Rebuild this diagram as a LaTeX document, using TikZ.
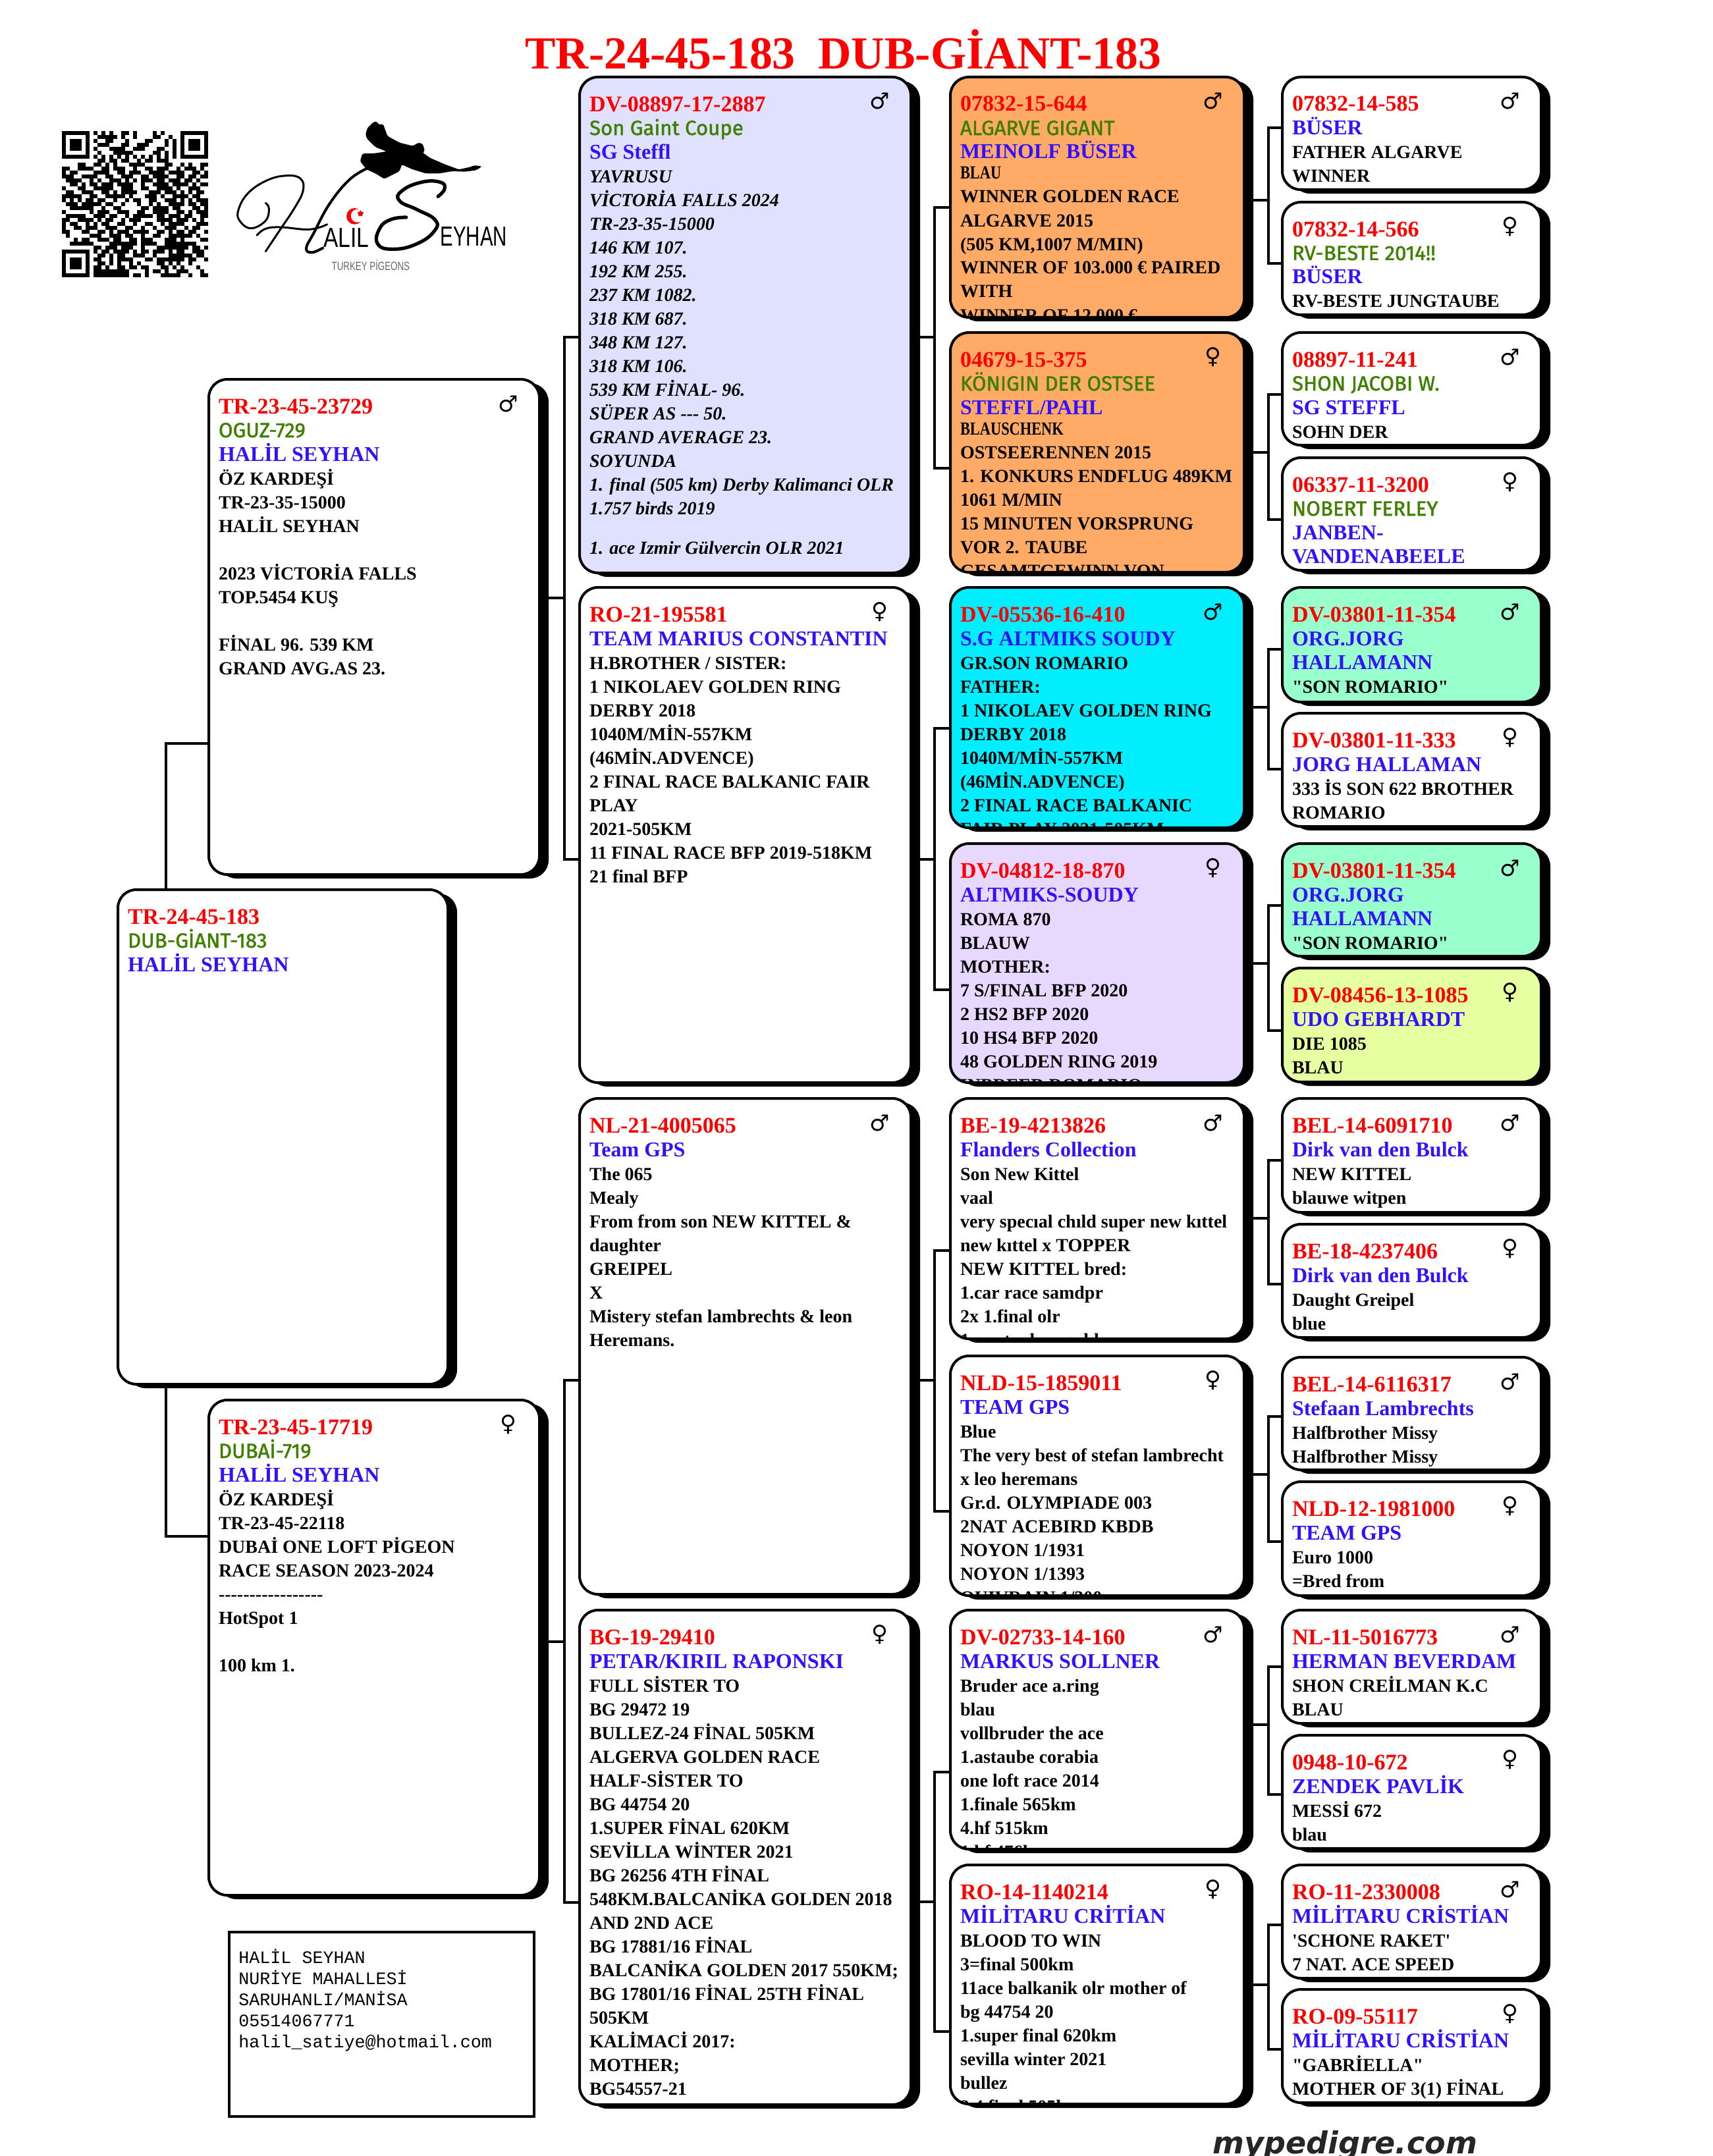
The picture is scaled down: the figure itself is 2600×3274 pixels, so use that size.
\documentclass[tikz,border=0pt]{standalone}
\usepackage{fontspec}
\usetikzlibrary{positioning,shadows,backgrounds,calc,shapes.geometric}
\newfontfamily\pedserif{Liberation Serif}
\newfontfamily\pedsans[FakeBold=1.6]{Fira Sans}
\newfontfamily\pedmono{Liberation Mono}
\newfontfamily\pedlogo{Liberation Sans}
\newfontfamily\pedsym{DejaVu Sans}
\definecolor{pedred}{HTML}{FF0000}
\definecolor{pedgreen}{HTML}{3F8000}
\definecolor{pedblue}{HTML}{3311FF}
\definecolor{cellorange}{HTML}{FFAA66}
\definecolor{celllav}{HTML}{E0E0FF}
\definecolor{cellcyan}{HTML}{00EEFF}
\definecolor{cellmint}{HTML}{99FFCC}
\definecolor{cellpurple}{HTML}{E6D8FF}
\definecolor{celllime}{HTML}{E6FFA0}
\lineskiplimit=-100pt
\tikzset{
  pedcell/.style={draw=black, line width=2pt, rounded corners=14pt, anchor=north west,
    inner sep=0pt, outer sep=0pt,
    general shadow={fill=black, shadow xshift=7pt, shadow yshift=-3pt}},
  pedtext/.style={inner sep=0pt, outer sep=0pt, align=left,
    font=\pedserif\bfseries\fontsize{14}{18}\selectfont},
  pedsex/.style={inner sep=0pt, font=\pedsym\fontsize{17}{17}\selectfont},
  pedline/.style={line width=2pt, line join=miter},
  logotext/.style={inner sep=0pt, anchor=base west, transform shape, font=\pedlogo},
  every picture/.append style={x=0.5pt, y=-0.5pt}
}
\newcommand{\pedid}[1]{{\upshape\color{pedred}\rule{0pt}{12pt}\fontsize{17}{18}\selectfont #1}}
\newcommand{\pedname}[1]{{\upshape\mdseries\color{pedgreen}\pedsans\fontsize{15.6}{18}\selectfont #1}}
\newcommand{\pedown}[1]{{\upshape\color{pedblue}\fontsize{16}{18}\selectfont #1}}
\newcommand{\pedsmall}[1]{\scalebox{0.8}[1]{#1}}
\newcommand{\pedbox}[8]{
  \node[pedcell, fill=#6, minimum width=#4*0.5pt, minimum height=#5*0.5pt] (#1) at (#2,#3) {};
  \begin{scope}
    \clip[rounded corners=13pt] ([shift={(1pt,-1pt)}]#1.north west) rectangle ([shift={(-1pt,1pt)}]#1.south east);
    \node[pedtext, anchor=north west] (#1text) at ([shift={(7.5pt,-14pt)}]#1.north west) {#8};
  \end{scope}
  \node[pedsex] (#1sex) at ([shift={(-23.5pt,-18.5pt)}]#1.north east) {#7};
}
\newcommand{\pedlink}[7]{
  \draw[pedline] (#1.east |- 0,#6) -- (#4,#6);
  \draw[pedline] (#2.west |- 0,#5) -- (#4,#5) -- (#4,#7) -- (#3.west |- 0,#7);
}
\newcount\qrcol
\def\qrscan#1{\ifx#1.\else\ifnum#1=1 \fill (94+6*\the\qrcol-0.1,199+6*\qrrow-0.1) rectangle (100.1+6*\the\qrcol,205.1+6*\qrrow);\fi\advance\qrcol by 1 \expandafter\qrscan\fi}
\begin{document}
\begin{tikzpicture}
  \useasboundingbox (0,0) rectangle (2600,3274);
  \node[anchor=base west, inner sep=0pt, text=pedred, font=\pedserif\bfseries\fontsize{34.85}{36}\selectfont] (title) at (797,105) {TR-24-45-183\ \ DUB-GİANT-183};

  \foreach \qrbits [count=\qrrow from 0] in {
    1111111 0 101010011010000101000 0 1111111,
    1000001 0 011111010010000110010 0 1000001,
    1011101 0 100110001000011000101 0 1011101,
    1011101 0 011100011001110000101 0 1011101,
    1011101 0 100011110011100011001 0 1011101,
    1000001 0 010001111100000110101 0 1000001,
    1111111 0 101010101010101010101 0 1111111,
    0000000 0 011011011001011011100 0 0000000,
    0000110 0 110101000111100000110 0 1010011,
    1100111 1 001101110010011011100 1 0111010,
    1011000 0 111100110111001111011 1 1001101,
    1110011 1 100110011100110111100 1 1011011,
    0111100 1 010011101010111011011 1 0110100,
    0011010 1 101110111100100111101 1 1101011,
    1000110 0 111110011100110011110 1 0011100,
    0110011 1 001101011110001110111 0 1010110,
    1111100 1 100111110100011101001 1 1101100,
    1010101 1 011001001011001100111 0 1010111,
    0111011 1 110110010001001010011 1 1011011,
    0011111 1 001001100000110111101 1 0001101,
    1000000 1 011100111001100111100 1 1010111,
    0111110 0 111011001011111011011 1 0110011,
    1100111 1 010110010111000011110 1 1101010,
    1011001 0 101100110010011001011 1 1000111,
    1001101 1 100111001100100100111 0 0101100,
    1100011 0 011010111011110011010 1 1011001,
    0100000 1 110011101100100110011 1 1110100,
    0001011 0 011101100110111000111 0 1000011,
    0011111 1 000011111110111100111 1 1111000,
    0000000 0 110111011100100011111 1 1101101,
    1111111 0 101101111010110111010 1 1001110,
    1000001 0 011010110011100100011 1 1110110,
    1011101 0 110010111100011011111 1 1011001,
    1011101 0 011010100101000011010 1 0010000,
    1011101 0 110100110110110001101 0 1000100,
    1000001 0 111111111000010110100 1 1100010,
    1111111 0 111111111011010001111 1 0010011}
  {\qrcol=0 \expandafter\qrscan\qrbits.}

  \begin{scope}[shift={(340,170)}, x=0.1667pt, y=-0.1667pt]
    \fill[rounded corners=1pt] (655,70) -- (668,60) -- (675,50) -- (695,42) -- (705,58) -- (725,55) -- (745,110) -- (800,140) -- (860,155) -- (885,140) -- (905,145) -- (915,178) -- (905,185) -- (940,210) -- (1010,240) -- (1070,262) -- (1125,250) -- (1140,243) -- (1175,248) -- (1150,265) -- (1100,272) -- (1040,270) -- (980,280) -- (920,280) -- (860,262) -- (810,240) -- (800,270) -- (760,290) -- (730,305) -- (690,280) -- (650,262) -- (620,225) -- (630,190) -- (690,188) -- (740,180) -- (690,160) -- (650,120) -- (645,100) -- cycle;
    \draw[line width=1.5pt, line cap=round] plot[smooth, tension=0.7] coordinates {(190,415) (205,440) (190,495) (125,530) (75,500) (65,450) (110,370) (200,310) (290,290) (350,305) (360,360) (320,440) (260,530) (190,635)};
    \draw[line width=1.5pt, line cap=round] plot[smooth, tension=0.7] coordinates {(150,562) (190,532) (260,525) (390,535) (470,512)};
    \draw[line width=2pt, line cap=round] plot[smooth, tension=0.7] coordinates {(650,258) (570,310) (480,420) (410,550) (375,620) (400,640) (450,620)};
    \draw[line width=2.6pt, line cap=round] plot[smooth, tension=0.8] coordinates {(975,385) (1005,350) (985,320) (900,320) (810,360) (800,405) (880,445) (960,490) (960,540) (880,600) (770,625) (700,600) (710,530) (760,490) (830,480)};
    \fill[red] (595,475) circle (37);
    \fill[white] (608,473) circle (30);
    \node[star, star points=5, fill=red, inner sep=0pt, minimum size=5pt] (logostar) at (622,463) {};
    \node[logotext, xscale=0.8, font=\pedlogo\fontsize{21}{21}\selectfont] (logoalil) at (452,615) {ALIL};
    \node[logotext, xscale=0.7, font=\pedlogo\fontsize{21}{21}\selectfont] (logoeyhan) at (985,610) {EYHAN};
    \node[logotext, xscale=0.74, text=black!60, font=\pedlogo\fontsize{9}{9}\selectfont] (logotag) at (490,720) {TURKEY PİGEONS};
  \end{scope}

  \pedbox{root}{179}{1351}{501}{751}{white}{}{\pedid{TR-24-45-183}\\\pedname{DUB-GİANT-183}\\\pedown{HALİL SEYHAN}}

  \pedbox{sire}{317}{576}{502}{752}{white}{♂}{\pedid{TR-23-45-23729}\\\pedname{OGUZ-729}\\\pedown{HALİL SEYHAN}\\ÖZ KARDEŞİ\\TR-23-35-15000\\HALİL SEYHAN\\~\\2023 VİCTORİA FALLS\\TOP.5454 KUŞ\\~\\FİNAL 96. 539 KM\\GRAND AVG.AS 23.}
  \pedbox{dam}{317}{2126}{502}{752}{white}{♀}{\pedid{TR-23-45-17719}\\\pedname{DUBAİ-719}\\\pedown{HALİL SEYHAN}\\ÖZ KARDEŞİ\\TR-23-45-22118\\DUBAİ ONE LOFT PİGEON\\RACE SEASON 2023-2024\\-{}-{}-{}-{}-{}-{}-{}-{}-{}-{}-{}-{}-{}-{}-{}-{}-\\HotSpot 1\\~\\100 km 1.}

  \begin{scope}[pedtext/.append style={font=\pedserif\bfseries\itshape\fontsize{14}{18}\selectfont}]
    \pedbox{ss}{880}{117}{503}{753}{celllav}{♂}{\pedid{DV-08897-17-2887}\\\pedname{Son Gaint Coupe}\\\pedown{SG Steffl}\\YAVRUSU\\VİCTORİA FALLS 2024\\TR-23-35-15000\\146 KM 107.\\192 KM 255.\\237 KM 1082.\\318 KM 687.\\348 KM 127.\\318 KM 106.\\539 KM FİNAL- 96.\\SÜPER AS -{}-{}- 50.\\GRAND AVERAGE 23.\\SOYUNDA\\1. final (505 km) Derby Kalimanci OLR\\1.757 birds 2019\\[12pt]1. ace Izmir Gülvercin OLR 2021}
  \end{scope}
  \pedbox{sd}{880}{892}{503}{752}{white}{♀}{\pedid{RO-21-195581}\\\pedown{TEAM MARIUS CONSTANTIN}\\H.BROTHER / SISTER:\\1 NIKOLAEV GOLDEN RING\\DERBY 2018\\1040M/MİN-557KM\\(46MİN.ADVENCE)\\2 FINAL RACE BALKANIC FAIR\\PLAY\\2021-505KM\\11 FINAL RACE BFP 2019-518KM\\21 final BFP}
  \pedbox{ds}{880}{1668}{503}{753}{white}{♂}{\pedid{NL-21-4005065}\\\pedown{Team GPS}\\The 065\\Mealy\\From from son NEW KITTEL \&\\daughter\\GREIPEL\\X\\Mistery stefan lambrechts \& leon\\Heremans.}
  \pedbox{dd}{880}{2445}{503}{751}{white}{♀}{\pedid{BG-19-29410}\\\pedown{PETAR/KIRIL RAPONSKI}\\FULL SİSTER TO\\BG 29472 19\\BULLEZ-24 FİNAL 505KM\\ALGERVA GOLDEN RACE\\HALF-SİSTER TO\\BG 44754 20\\1.SUPER FİNAL 620KM\\SEVİLLA WİNTER 2021\\BG 26256 4TH FİNAL\\548KM.BALCANİKA GOLDEN 2018\\AND 2ND ACE\\BG 17881/16 FİNAL\\BALCANİKA GOLDEN 2017 550KM;\\BG 17801/16 FİNAL 25TH FİNAL\\505KM\\KALİMACİ 2017:\\MOTHER;\\BG54557-21\\sevilla}

  \pedbox{sss}{1443}{117}{446}{365}{cellorange}{♂}{\pedid{07832-15-644}\\\pedname{ALGARVE GIGANT}\\\pedown{MEINOLF BÜSER}\\[-2.5pt]\pedsmall{BLAU}\\WINNER GOLDEN RACE\\ALGARVE 2015\\(505 KM,1007 M/MIN)\\WINNER OF 103.000 € PAIRED\\WITH\\WINNER OF 12.000 €}
  \pedbox{ssd}{1443}{505}{446}{364}{cellorange}{♀}{\pedid{04679-15-375}\\\pedname{KÖNIGIN DER OSTSEE}\\\pedown{STEFFL/PAHL}\\[-2.5pt]\pedsmall{BLAUSCHENK}\\OSTSEERENNEN 2015\\1. KONKURS ENDFLUG 489KM\\1061 M/MIN\\15 MINUTEN VORSPRUNG\\VOR 2. TAUBE\\GESAMTGEWINN VON}
  \pedbox{sds}{1443}{892}{446}{365}{cellcyan}{♂}{\pedid{DV-05536-16-410}\\\pedown{S.G ALTMIKS SOUDY}\\GR.SON ROMARIO\\FATHER:\\1 NIKOLAEV GOLDEN RING\\DERBY 2018\\1040M/MİN-557KM\\(46MİN.ADVENCE)\\2 FINAL RACE BALKANIC\\FAIR PLAY 2021-505KM}
  \pedbox{sdd}{1443}{1281}{446}{363}{cellpurple}{♀}{\pedid{DV-04812-18-870}\\\pedown{ALTMIKS-SOUDY}\\ROMA 870\\BLAUW\\MOTHER:\\7 S/FINAL BFP 2020\\2 HS2 BFP 2020\\10 HS4 BFP 2020\\48 GOLDEN RING 2019\\INBREED ROMARIO}
  \pedbox{dss}{1443}{1668}{446}{365}{white}{♂}{\pedid{BE-19-4213826}\\\pedown{Flanders Collection}\\Son New Kittel\\vaal\\very specıal chıld super new kıttel\\new kıttel x TOPPER\\NEW KITTEL bred:\\1.car race samdpr\\2x 1.final olr\\1.ace taube world}
  \pedbox{dsd}{1443}{2059}{446}{364}{white}{♀}{\pedid{NLD-15-1859011}\\\pedown{TEAM GPS}\\Blue\\The very best of stefan lambrecht\\x leo heremans\\Gr.d. OLYMPIADE 003\\2NAT ACEBIRD KBDB\\NOYON 1/1931\\NOYON 1/1393\\QUIVRAIN 1/300}
  \pedbox{dds}{1443}{2445}{446}{363}{white}{♂}{\pedid{DV-02733-14-160}\\\pedown{MARKUS SOLLNER}\\Bruder ace a.ring\\blau\\vollbruder the ace\\1.astaube corabia\\one loft race 2014\\1.finale 565km\\4.hf 515km\\1.hf 476km}
  \pedbox{ddd}{1443}{2832}{446}{363}{white}{♀}{\pedid{RO-14-1140214}\\\pedown{MİLİTARU CRİTİAN}\\BLOOD TO WIN\\3=final 500km\\11ace balkanik olr mother of\\bg 44754 20\\1.super final 620km\\sevilla winter 2021\\bullez\\2.4 final 505km}

  \pedbox{ssss}{1947}{117}{393}{171}{white}{♂}{\pedid{07832-14-585}\\\pedown{BÜSER}\\FATHER ALGARVE\\WINNER}
  \pedbox{sssd}{1947}{307}{393}{171}{white}{♀}{\pedid{07832-14-566}\\\pedname{RV-BESTE 2014!!}\\\pedown{BÜSER}\\RV-BESTE JUNGTAUBE}
  \pedbox{ssds}{1947}{505}{393}{171}{white}{♂}{\pedid{08897-11-241}\\\pedname{SHON JACOBI W.}\\\pedown{SG STEFFL}\\SOHN DER}
  \pedbox{ssdd}{1947}{695}{393}{171}{white}{♀}{\pedid{06337-11-3200}\\\pedname{NOBERT FERLEY}\\\pedown{JANBEN-}\\\pedown{VANDENABEELE}}
  \pedbox{sdss}{1947}{892}{393}{174}{cellmint}{♂}{\pedid{DV-03801-11-354}\\\pedown{ORG.JORG}\\\pedown{HALLAMANN}\\"SON ROMARIO"}
  \pedbox{sdsd}{1947}{1083}{393}{172}{white}{♀}{\pedid{DV-03801-11-333}\\\pedown{JORG HALLAMAN}\\333 İS SON 622 BROTHER\\ROMARIO}
  \pedbox{sdds}{1947}{1281}{393}{171}{cellmint}{♂}{\pedid{DV-03801-11-354}\\\pedown{ORG.JORG}\\\pedown{HALLAMANN}\\"SON ROMARIO"}
  \pedbox{sddd}{1947}{1470}{393}{173}{celllime}{♀}{\pedid{DV-08456-13-1085}\\\pedown{UDO GEBHARDT}\\DIE 1085\\BLAU}
  \pedbox{dsss}{1947}{1668}{393}{173}{white}{♂}{\pedid{BEL-14-6091710}\\\pedown{Dirk van den Bulck}\\NEW KITTEL\\blauwe witpen}
  \pedbox{dssd}{1947}{1859}{393}{172}{white}{♀}{\pedid{BE-18-4237406}\\\pedown{Dirk van den Bulck}\\Daught Greipel\\blue}
  \pedbox{dsds}{1947}{2061}{393}{171}{white}{♂}{\pedid{BEL-14-6116317}\\\pedown{Stefaan Lambrechts}\\Halfbrother Missy\\Halfbrother Missy}
  \pedbox{dsdd}{1947}{2250}{393}{173}{white}{♀}{\pedid{NLD-12-1981000}\\\pedown{TEAM GPS}\\Euro 1000\\=Bred from}
  \pedbox{ddss}{1947}{2445}{393}{172}{white}{♂}{\pedid{NL-11-5016773}\\\pedown{HERMAN BEVERDAM}\\SHON CREİLMAN K.C\\BLAU}
  \pedbox{ddsd}{1947}{2635}{393}{172}{white}{♀}{\pedid{0948-10-672}\\\pedown{ZENDEK PAVLİK}\\MESSİ 672\\blau}
  \pedbox{ddds}{1947}{2832}{393}{172}{white}{♂}{\pedid{RO-11-2330008}\\\pedown{MİLİTARU CRİSTİAN}\\\textquotesingle SCHONE RAKET\textquotesingle\\7 NAT. ACE SPEED}
  \pedbox{dddd}{1947}{3021}{393}{172}{white}{♀}{\pedid{RO-09-55117}\\\pedown{MİLİTARU CRİSTİAN}\\"GABRİELLA"\\MOTHER OF 3(1) FİNAL}

  \begin{scope}[on background layer]
    \draw[pedline] (sire.west |- 0,1129) -- (252,1129) -- (252,2333) -- (dam.west |- 0,2333);
    \pedlink{sire}{ss}{sd}{857}{512}{908}{1305}
    \pedlink{dam}{ds}{dd}{857}{2096}{2493}{2889}
    \pedlink{ss}{sss}{ssd}{1419}{315}{512}{711}
    \pedlink{sd}{sds}{sdd}{1419}{1106}{1305}{1503}
    \pedlink{ds}{dss}{dsd}{1419}{1899}{2096}{2295}
    \pedlink{dd}{dds}{ddd}{1419}{2691}{2888}{3085}
    \pedlink{sss}{ssss}{sssd}{1926}{194}{304}{400}
    \pedlink{ssd}{ssds}{ssdd}{1926}{599}{687}{789}
    \pedlink{sds}{sdss}{sdsd}{1926}{986}{1074}{1168}
    \pedlink{sdd}{sdds}{sddd}{1926}{1375}{1463}{1565}
    \pedlink{dss}{dsss}{dssd}{1926}{1762}{1850}{1950}
    \pedlink{dsd}{dsds}{dsdd}{1926}{2151}{2239}{2341}
    \pedlink{dds}{ddss}{ddsd}{1926}{2531}{2619}{2725}
    \pedlink{ddd}{ddds}{dddd}{1926}{2923}{3014}{3112}
  \end{scope}

  \node[draw=black, line width=2pt, anchor=north west, inner sep=0pt, minimum width=231.5pt, minimum height=140pt] (contact) at (346,2932) {};
  \node[anchor=north west, inner sep=0pt, align=left, font=\pedmono\fontsize{13.35}{16}\selectfont] (contacttext) at (362,2960) {HALİL SEYHAN\\NURİYE MAHALLESİ\\SARUHANLI/MANİSA\\05514067771\\halil\_satiye@hotmail.com};
  \node[anchor=base west, inner sep=0pt, text=black!85, font=\pedsym\bfseries\itshape\fontsize{23}{24}\selectfont] (brand) at (1841,3270) {mypedigre.com};
\end{tikzpicture}
\end{document}
